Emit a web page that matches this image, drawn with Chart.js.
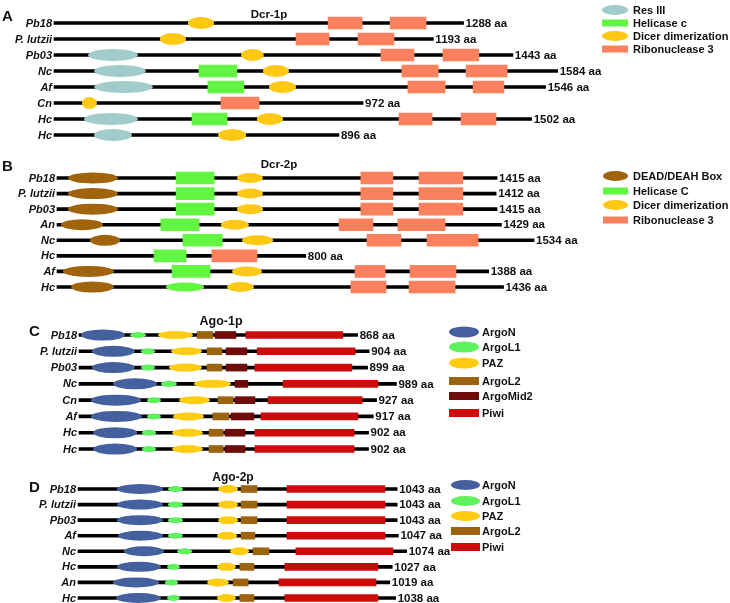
<!DOCTYPE html>
<html>
<head>
<meta charset="utf-8">
<script src="https://cdn.jsdelivr.net/npm/chart.js@4"></script>
<style>
    html, body { margin: 0; padding: 0; background: #fff; }
    #wrap { position: relative; width: 730px; height: 603px; overflow: hidden; }
    canvas { position: absolute; left: 0; }
</style>
</head>
<body>
<div id="wrap">
    <canvas id="dcr1" width="730" height="150" style="top:0px"></canvas>
    <canvas id="dcr2" width="730" height="155" style="top:150px"></canvas>
    <canvas id="ago1" width="730" height="155" style="top:305px"></canvas>
    <canvas id="ago2" width="730" height="143" style="top:460px"></canvas>
</div>
<script>
// Dcr-1p (domain positions in aa, one entry per protein)
const dcr1Names = ['Pb18', 'P. lutzii', 'Pb03', 'Nc', 'Af', 'Cn', 'Hc', 'Hc'];
const dcr1Length = [1288, 1193, 1443, 1584, 1546, 972, 1502, 896];
const dcr1ResIII = [null, null, [107, 264], [126, 289], [126, 311], null, [94, 264], [126, 245]];
const dcr1Helicase = [null, null, null, [456, 575], [484, 597], null, [434, 544], null];
const dcr1Dicer = [[421, 503], [333, 415], [588, 660], [657, 739], [676, 761], [88, 135], [638, 720], [516, 604]];
const dcr1Rnase = [
    [[862, 969], [1057, 1170]],
    [[761, 865], [956, 1069]],
    [[1028, 1132], [1223, 1336]],
    [[1094, 1208], [1296, 1425]],
    [[1113, 1230], [1318, 1415]],
    [[525, 645]],
    [[1085, 1189], [1280, 1390]],
    null,
];

// Dcr-2p
const dcr2Names = ['Pb18', 'P. lutzii', 'Pb03', 'An', 'Nc', 'Hc', 'Af', 'Hc'];
const dcr2Length = [1415, 1412, 1415, 1429, 1534, 800, 1388, 1436];
const dcr2Dead = [[35, 196], [35, 196], [35, 196], [13, 148], [106, 203], null, [19, 183], [45, 183]];
const dcr2Helicase = [[383, 505], [383, 505], [383, 505], [334, 457], [405, 531], [312, 415], [370, 492], null];
const dcr2HelicaseOval = [null, null, null, null, null, null, null, [350, 473]];
const dcr2Dicer = [[579, 662], [579, 662], [579, 662], [527, 617], [595, 695], null, [563, 659], [547, 633]];
const dcr2Rnase = [
    [[977, 1080], [1164, 1305]],
    [[977, 1080], [1164, 1305]],
    [[977, 1080], [1164, 1305]],
    [[907, 1016], [1096, 1248]],
    [[997, 1106], [1190, 1354]],
    [[498, 643]],
    [[958, 1055], [1135, 1283]],
    [[945, 1058], [1132, 1280]],
];

// Ago-1p
const ago1Names = ['Pb18', 'P. lutzii', 'Pb03', 'Nc', 'Cn', 'Af', 'Hc', 'Hc'];
const ago1Length = [868, 904, 899, 989, 927, 917, 902, 902];
const ago1ArgoN = [[6, 143], [40, 174], [40, 174], [106, 243], [37, 193], [37, 196], [44, 181], [44, 181]];
const ago1ArgoL1 = [[159, 209], [193, 237], [193, 237], [255, 305], [212, 255], [212, 255], [196, 240], [196, 240]];
const ago1Paz = [[246, 355], [287, 383], [280, 383], [358, 474], [312, 408], [293, 389], [290, 386], [290, 386]];
const ago1ArgoL2 = [[368, 417], [399, 445], [399, 445], null, [433, 480], [417, 467], [405, 449], [405, 449]];
const ago1ArgoMid2 = [[424, 489], [458, 523], [458, 523], [486, 526], [486, 548], [474, 545], [455, 517], [455, 517]];
const ago1Piwi = [[520, 822], [555, 860], [548, 850], [636, 931], [589, 882], [567, 869], [548, 857], [548, 857]];

// Ago-2p
const ago2Names = ['Pb18', 'P. lutzii', 'Pb03', 'Af', 'Nc', 'Hc', 'An', 'Hc'];
const ago2Length = [1043, 1043, 1043, 1047, 1074, 1027, 1019, 1038];
const ago2ArgoN = [[127, 278], [127, 278], [127, 278], [131, 278], [150, 281], [127, 271], [114, 265], [124, 271]];
const ago2ArgoL1 = [[294, 343], [294, 343], [294, 343], [294, 343], [324, 373], [291, 333], [284, 327], [291, 333]];
const ago2Paz = [[458, 523], [458, 523], [458, 523], [454, 520], [497, 559], [454, 516], [422, 493], [454, 516]];
const ago2ArgoL2 = [[533, 585], [533, 585], [533, 585], [533, 578], [572, 624], [529, 575], [507, 556], [529, 575]];
const ago2Piwi = [[683, 1003], [683, 1003], [683, 1003], [683, 1003], [712, 1029], [676, 980], [657, 974], [676, 980]];

const FONT = '"Liberation Sans", Arial, sans-serif';

const panels = {
    dcr1: {
        letter: 'A', letterPos: [2, 17], title: 'Dcr-1p', titlePos: [269, 15], titleSize: 11.5,
        names: dcr1Names, lengths: dcr1Length,
        top: 0, height: 150, row0: 23, rowStep: 16, start: 54, k: 0.318,
        legend: { x: 602, w: 26, textX: 633, y: [10, 23, 36, 49], ovalH: 10, rectH: 7 },
        types: [
            { label: 'Res III', rows: dcr1ResIII, color: '#a2cbcb', shape: 'oval', h: 12 },
            { label: 'Helicase c', rows: dcr1Helicase, color: '#62f542', shape: 'rect', h: 12 },
            { label: 'Dicer dimerization', rows: dcr1Dicer, color: '#ffc815', shape: 'oval', h: 12 },
            { label: 'Ribonuclease 3', rows: dcr1Rnase, color: '#fb805e', shape: 'rect', h: 12 },
        ],
    },
    dcr2: {
        letter: 'B', letterPos: [2, 17], title: 'Dcr-2p', titlePos: [279, 15], titleSize: 11.5,
        names: dcr2Names, lengths: dcr2Length,
        top: 150, height: 155, row0: 178, rowStep: 15.57, start: 57, k: 0.311,
        legend: { x: 603, w: 25, textX: 633, y: [176, 191, 205, 220], ovalH: 10, rectH: 7 },
        types: [
            { label: 'DEAD/DEAH Box', rows: dcr2Dead, color: '#a0650c', shape: 'oval', h: 11 },
            { label: 'Helicase C', rows: dcr2Helicase, color: '#62f542', shape: 'rect', h: 12 },
            { label: 'Helicase C', rows: dcr2HelicaseOval, color: '#62f542', shape: 'oval', h: 9, noLegend: true },
            { label: 'Dicer dimerization', rows: dcr2Dicer, color: '#ffc815', shape: 'oval', h: 10 },
            { label: 'Ribonuclease 3', rows: dcr2Rnase, color: '#fb805e', shape: 'rect', h: 12 },
        ],
    },
    ago1: {
        letter: 'C', letterPos: [29, 27], title: 'Ago-1p', titlePos: [221, 17], titleSize: 12.5,
        names: ago1Names, lengths: ago1Length,
        top: 305, height: 155, row0: 335, rowStep: 16.29, start: 79, k: 0.321,
        legend: { x: 449, w: 30, textX: 482, y: [332, 347, 363, 381, 396, 413], ovalH: 11, rectH: 8 },
        types: [
            { label: 'ArgoN', rows: ago1ArgoN, color: '#44609e', shape: 'oval', h: 11 },
            { label: 'ArgoL1', rows: ago1ArgoL1, color: '#5ef25e', shape: 'oval', h: 6 },
            { label: 'PAZ', rows: ago1Paz, color: '#ffcc12', shape: 'oval', h: 8 },
            { label: 'ArgoL2', rows: ago1ArgoL2, color: '#9c6410', shape: 'rect', h: 7 },
            { label: 'ArgoMid2', rows: ago1ArgoMid2, color: '#6e0b0b', shape: 'rect', h: 7 },
            { label: 'Piwi', rows: ago1Piwi, color: '#cc0b0b', shape: 'rect', h: 7 },
        ],
    },
    ago2: {
        letter: 'D', letterPos: [29, 28], title: 'Ago-2p', titlePos: [233, 18], titleSize: 12,
        names: ago2Names, lengths: ago2Length,
        top: 460, height: 143, row0: 489, rowStep: 15.57, start: 78, k: 0.306,
        legend: { x: 451, w: 29, textX: 482, y: [485, 501, 516, 531, 547], ovalH: 10, rectH: 8 },
        types: [
            { label: 'ArgoN', rows: ago2ArgoN, color: '#44609e', shape: 'oval', h: 10 },
            { label: 'ArgoL1', rows: ago2ArgoL1, color: '#5ef25e', shape: 'oval', h: 6 },
            { label: 'PAZ', rows: ago2Paz, color: '#ffcc12', shape: 'oval', h: 8 },
            { label: 'ArgoL2', rows: ago2ArgoL2, color: '#9c6410', shape: 'rect', h: 7 },
            { label: 'Piwi', rows: ago2Piwi, color: '#cc0b0b', shape: 'rect', h: 7 },
        ],
    },
};

// one row can hold nothing, a single [start, end] or a list of them
function toBars(rows) {
    let bars = [];
    rows.forEach((row, i) => {
        if (!row) {
            return;
        }
        const list = typeof row[0] === 'number' ? [row] : row;
        list.forEach((r) => bars.push({ x: [r[0], r[1]], y: i }));
    });
    return bars;
}

const diagramPlugin = {
    id: 'diagram',
    beforeDatasetDraw(chart, args) {
        const ds = chart.data.datasets[args.index];
        if (!ds.oval) {
            return;
        }
        const ctx = chart.ctx;
        ctx.save();
        ctx.fillStyle = ds.backgroundColor;
        args.meta.data.forEach((el) => {
            const x1 = Math.min(el.x, el.base);
            const x2 = Math.max(el.x, el.base);
            ctx.beginPath();
            ctx.ellipse((x1 + x2) / 2, el.y, (x2 - x1) / 2, el.height / 2, 0, 0, Math.PI * 2);
            ctx.fill();
        });
        ctx.restore();
        return false;
    },
    afterDraw(chart) {
        const p = panels[chart.canvas.id];
        const ctx = chart.ctx;
        const xs = chart.scales.x;
        const ys = chart.scales.y;
        ctx.save();
        ctx.fillStyle = '#111';
        ctx.textBaseline = 'middle';

        // species names
        ctx.font = 'italic bold 11px ' + FONT;
        ctx.textAlign = 'right';
        p.names.forEach((n, i) => {
            ctx.fillText(n, xs.getPixelForValue(0) - 2, ys.getPixelForValue(i) + 0.5);
        });

        // lengths
        ctx.font = 'bold 11.5px ' + FONT;
        ctx.textAlign = 'left';
        p.lengths.forEach((len, i) => {
            ctx.fillText(len + ' aa', xs.getPixelForValue(len) + 2, ys.getPixelForValue(i) + 0.5);
        });

        // title + panel letter
        ctx.font = 'bold ' + p.titleSize + 'px ' + FONT;
        ctx.textAlign = 'center';
        ctx.fillText(p.title, p.titlePos[0], p.titlePos[1]);
        ctx.font = 'bold 15px ' + FONT;
        ctx.textAlign = 'left';
        ctx.fillText(p.letter, p.letterPos[0], p.letterPos[1]);

        // legend
        const lg = p.legend;
        ctx.font = 'bold 11px ' + FONT;
        p.types.filter((t) => !t.noLegend).forEach((t, i) => {
            const y = lg.y[i] - p.top;
            ctx.fillStyle = t.color;
            if (t.shape === 'oval') {
                ctx.beginPath();
                ctx.ellipse(lg.x + lg.w / 2, y, lg.w / 2, lg.ovalH / 2, 0, 0, Math.PI * 2);
                ctx.fill();
            } else {
                ctx.fillRect(lg.x, y - lg.rectH / 2, lg.w, lg.rectH);
            }
            ctx.fillStyle = '#111';
            ctx.fillText(t.label, lg.textX, y + 0.5);
        });
        ctx.restore();
    },
};

function drawPanel(id) {
    const p = panels[id];
    let datasets = p.types.map((t) => ({
        label: t.label,
        data: toBars(t.rows),
        backgroundColor: t.color,
        barThickness: t.h,
        grouped: false,
        borderWidth: 0,
        oval: t.shape === 'oval',
        order: 1,
    }));
    // protein backbone
    datasets.push({
        label: 'backbone',
        data: p.lengths.map((len, i) => ({ x: [0, len], y: i })),
        backgroundColor: '#000',
        barThickness: 3,
        grouped: false,
        borderWidth: 0,
        order: 10,
    });

    const yMin = -(p.row0 - p.top) / p.rowStep;
    new Chart(document.getElementById(id), {
        type: 'bar',
        data: { datasets: datasets },
        options: {
            indexAxis: 'y',
            responsive: false,
            animation: false,
            events: [],
            layout: { padding: 0, autoPadding: false },
            scales: {
                x: { type: 'linear', display: false, offset: false, min: -p.start / p.k, max: (730 - p.start) / p.k },
                y: { type: 'linear', display: false, offset: false, reverse: true, min: yMin, max: yMin + p.height / p.rowStep },
            },
            plugins: {
                legend: { display: false },
                tooltip: { enabled: false },
            },
        },
        plugins: [diagramPlugin],
    });
}

['dcr1', 'dcr2', 'ago1', 'ago2'].forEach(drawPanel);
</script>
</body>
</html>
